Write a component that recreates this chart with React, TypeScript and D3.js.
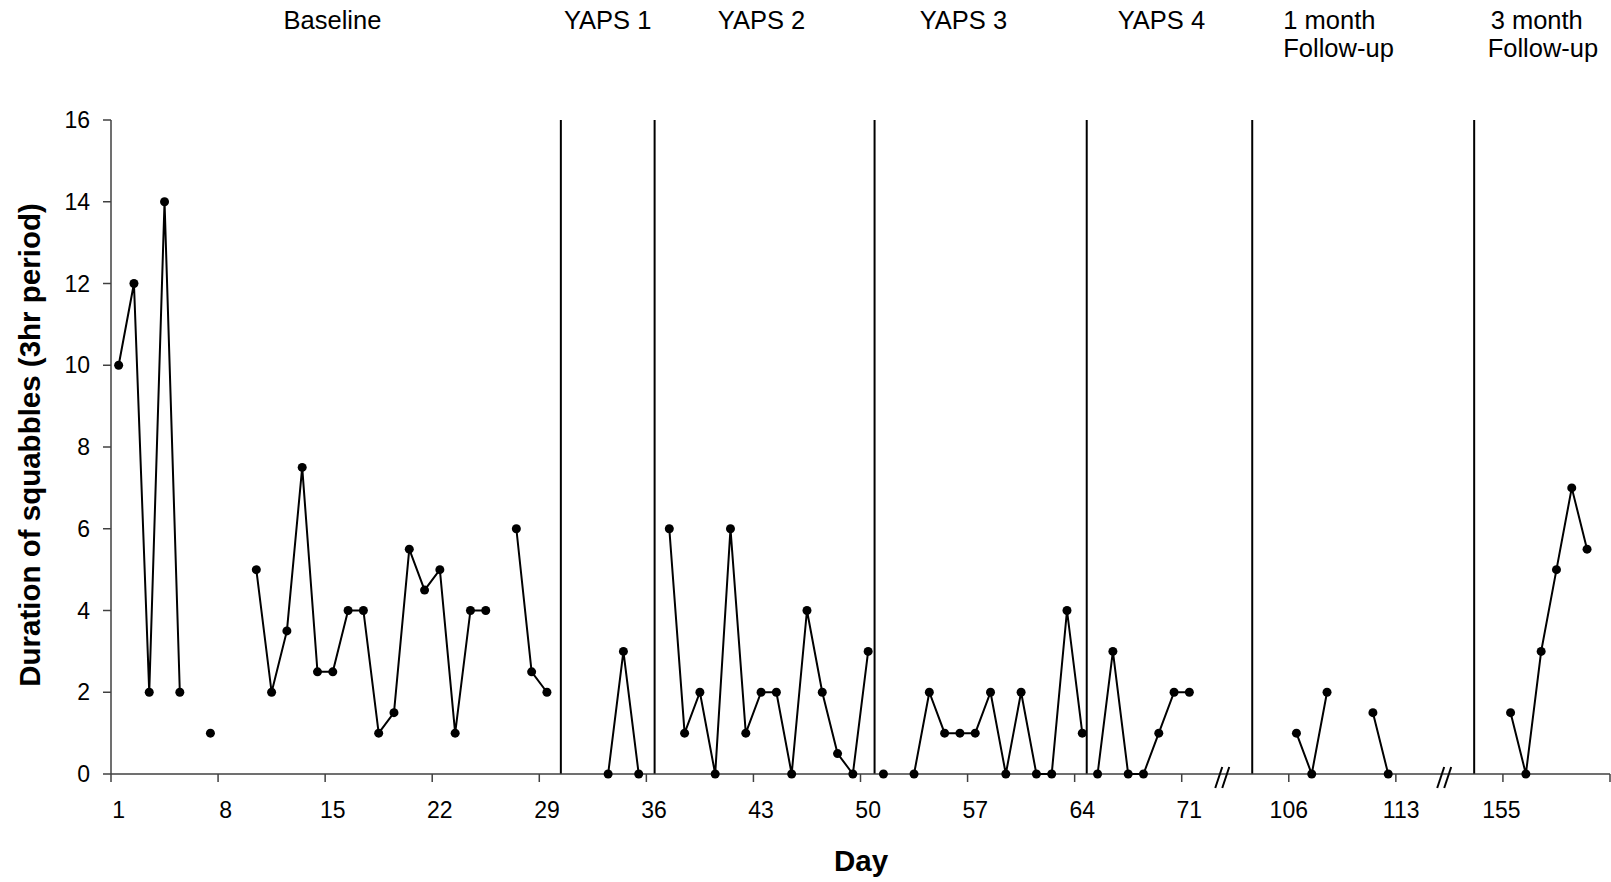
import React from "react";
import * as d3 from "d3";

const WIDTH = 1611;
const HEIGHT = 882;
const FONT = "'Liberation Sans', Arial, Helvetica, sans-serif";

// Number of session slots on the compressed day axis
const SLOT_COUNT = 98;

// Duration of squabbles per session slot, one series per phase (null = no observation)
const baselineStart = 0;
const baselineValues = [10, 12, 2, 14, 2, null, 1, null, null, 5, 2, 3.5, 7.5, 2.5, 2.5, 4, 4, 1, 1.5, 5.5, 4.5, 5, 1, 4, 4, null, 6, 2.5, 2];

const yaps1Start = 29;
const yaps1Values = [null, null, null, 0, 3, 0, null];

const yaps2Start = 36;
const yaps2Values = [6, 1, 2, 0, 6, 1, 2, 2, 0, 4, 2, 0.5, 0, 3];

const yaps3Start = 50;
const yaps3Values = [0, null, 0, 2, 1, 1, 1, 2, 0, 2, 0, 0, 4, 1];

const yaps4Start = 64;
const yaps4Values = [0, 3, 0, 0, 1, 2, 2];

const followUp1Start = 77;
const followUp1Values = [1, 0, 2, null, null, 1.5, 0];

const followUp3Start = 91;
const followUp3Values = [1.5, 0, 3, 5, 7, 5.5];

// Day labels along the x axis and the slot each one sits on
const dayLabels = ["1", "8", "15", "22", "29", "36", "43", "50", "57", "64", "71", "106", "113", "155"];
const dayLabelSlots = [0.5, 7.5, 14.5, 21.5, 28.5, 35.5, 42.5, 49.5, 56.5, 63.5, 70.5, 77, 84.35, 90.9];

// Slots where the phase-change lines are drawn
const phaseLineSlots = [29.41, 35.54, 49.92, 63.79, 74.61, 89.12];

// Axis breaks between the treatment days and the follow-ups
const axisBreakSlots = [72.65, 87.16];

// Phase headings
const phaseNames = [["Baseline"], ["YAPS 1"], ["YAPS 2"], ["YAPS 3"], ["YAPS 4"], ["1 month", "Follow-up"], ["3 month", "Follow-up"]];
const phaseNameSlots = [14.48, 32.47, 42.53, 55.73, 68.67, 76.64, 90.0];
const phaseNameAnchors = ["middle", "middle", "middle", "middle", "middle", "start", "start"];

const yTicks = [0, 2, 4, 6, 8, 10, 12, 14, 16];

type Pt = { slot: number; v: number | null };

function series(start: number, values: (number | null)[]): Pt[] {
  return values.map((v, i) => ({ slot: start + i, v }));
}

export default function App() {
  const left = 111;
  const right = 1610;
  const top = 120;
  const bottom = 774;

  const x = d3.scaleLinear().domain([0, SLOT_COUNT]).range([left, right]);
  const y = d3.scaleLinear().domain([0, 16]).range([bottom, top]);

  const phases: Pt[][] = [
    series(baselineStart, baselineValues),
    series(yaps1Start, yaps1Values),
    series(yaps2Start, yaps2Values),
    series(yaps3Start, yaps3Values),
    series(yaps4Start, yaps4Values),
    series(followUp1Start, followUp1Values),
    series(followUp3Start, followUp3Values),
  ];

  const line = d3
    .line<Pt>()
    .defined((d) => d.v !== null)
    .x((d) => x(d.slot + 0.5))
    .y((d) => y(d.v as number));

  const tickSlots = d3.range(0, SLOT_COUNT + 1, 7);

  return (
    <svg
      width={WIDTH}
      height={HEIGHT}
      viewBox={`0 0 ${WIDTH} ${HEIGHT}`}
      style={{ position: "absolute", left: 0, top: 0, background: "#fff" }}
      fontFamily={FONT}
    >
      <rect x={0} y={0} width={WIDTH} height={HEIGHT} fill="#fff" />

      {/* phase headings */}
      {phaseNames.map((lines, i) => (
        <text
          key={"ph" + i}
          x={x(phaseNameSlots[i])}
          y={29}
          fontSize={25.5}
          textAnchor={phaseNameAnchors[i] as any}
          fill="#000"
        >
          {lines.map((t, j) => (
            <tspan key={j} x={x(phaseNameSlots[i]) + (j === 0 && lines.length > 1 && i === 6 ? 3 : 0)} dy={j === 0 ? 0 : 28}>
              {t}
            </tspan>
          ))}
        </text>
      ))}

      {/* phase-change lines */}
      {phaseLineSlots.map((s, i) => (
        <line key={"pl" + i} x1={x(s)} x2={x(s)} y1={y(16)} y2={y(0)} stroke="#000" strokeWidth={2} />
      ))}

      {/* y axis */}
      <line x1={left} x2={left} y1={top} y2={bottom} stroke="#404040" strokeWidth={1.5} />
      {yTicks.map((t) => (
        <g key={"yt" + t}>
          <line x1={left - 8} x2={left} y1={y(t)} y2={y(t)} stroke="#404040" strokeWidth={1.5} />
          <text x={90} y={y(t)} dy="0.35em" fontSize={23} textAnchor="end" fill="#000">
            {t}
          </text>
        </g>
      ))}

      {/* x axis */}
      <line x1={left} x2={right} y1={bottom} y2={bottom} stroke="#404040" strokeWidth={1.5} />
      {tickSlots.map((s) => (
        <line key={"xt" + s} x1={x(s)} x2={x(s)} y1={bottom} y2={bottom + 8} stroke="#404040" strokeWidth={1.5} />
      ))}
      {dayLabels.map((lab, i) => (
        <text key={"xl" + i} x={x(dayLabelSlots[i])} y={818} fontSize={23} textAnchor="middle" fill="#000">
          {lab}
        </text>
      ))}

      {/* axis breaks */}
      {axisBreakSlots.map((s, i) => {
        const cx = x(s);
        return (
          <g key={"br" + i} stroke="#000" strokeWidth={2}>
            <line x1={cx - 7} y1={bottom + 14} x2={cx} y2={bottom - 7} />
            <line x1={cx} y1={bottom + 14} x2={cx + 7} y2={bottom - 7} />
          </g>
        );
      })}

      {/* data */}
      {phases.map((pts, i) => (
        <g key={"s" + i}>
          <path d={line(pts) ?? ""} fill="none" stroke="#000" strokeWidth={2} strokeLinejoin="miter" />
          {pts
            .filter((d) => d.v !== null)
            .map((d) => (
              <circle key={d.slot} cx={x(d.slot + 0.5)} cy={y(d.v as number)} r={4.5} fill="#000" />
            ))}
        </g>
      ))}

      {/* axis titles */}
      <text
        transform={`translate(40, 445) rotate(-90)`}
        fontSize={29.5}
        fontWeight="bold"
        textAnchor="middle"
        fill="#000"
      >
        Duration of squabbles (3hr period)
      </text>
      <text x={861} y={871} fontSize={29.5} fontWeight="bold" textAnchor="middle" fill="#000">
        Day
      </text>
    </svg>
  );
}
